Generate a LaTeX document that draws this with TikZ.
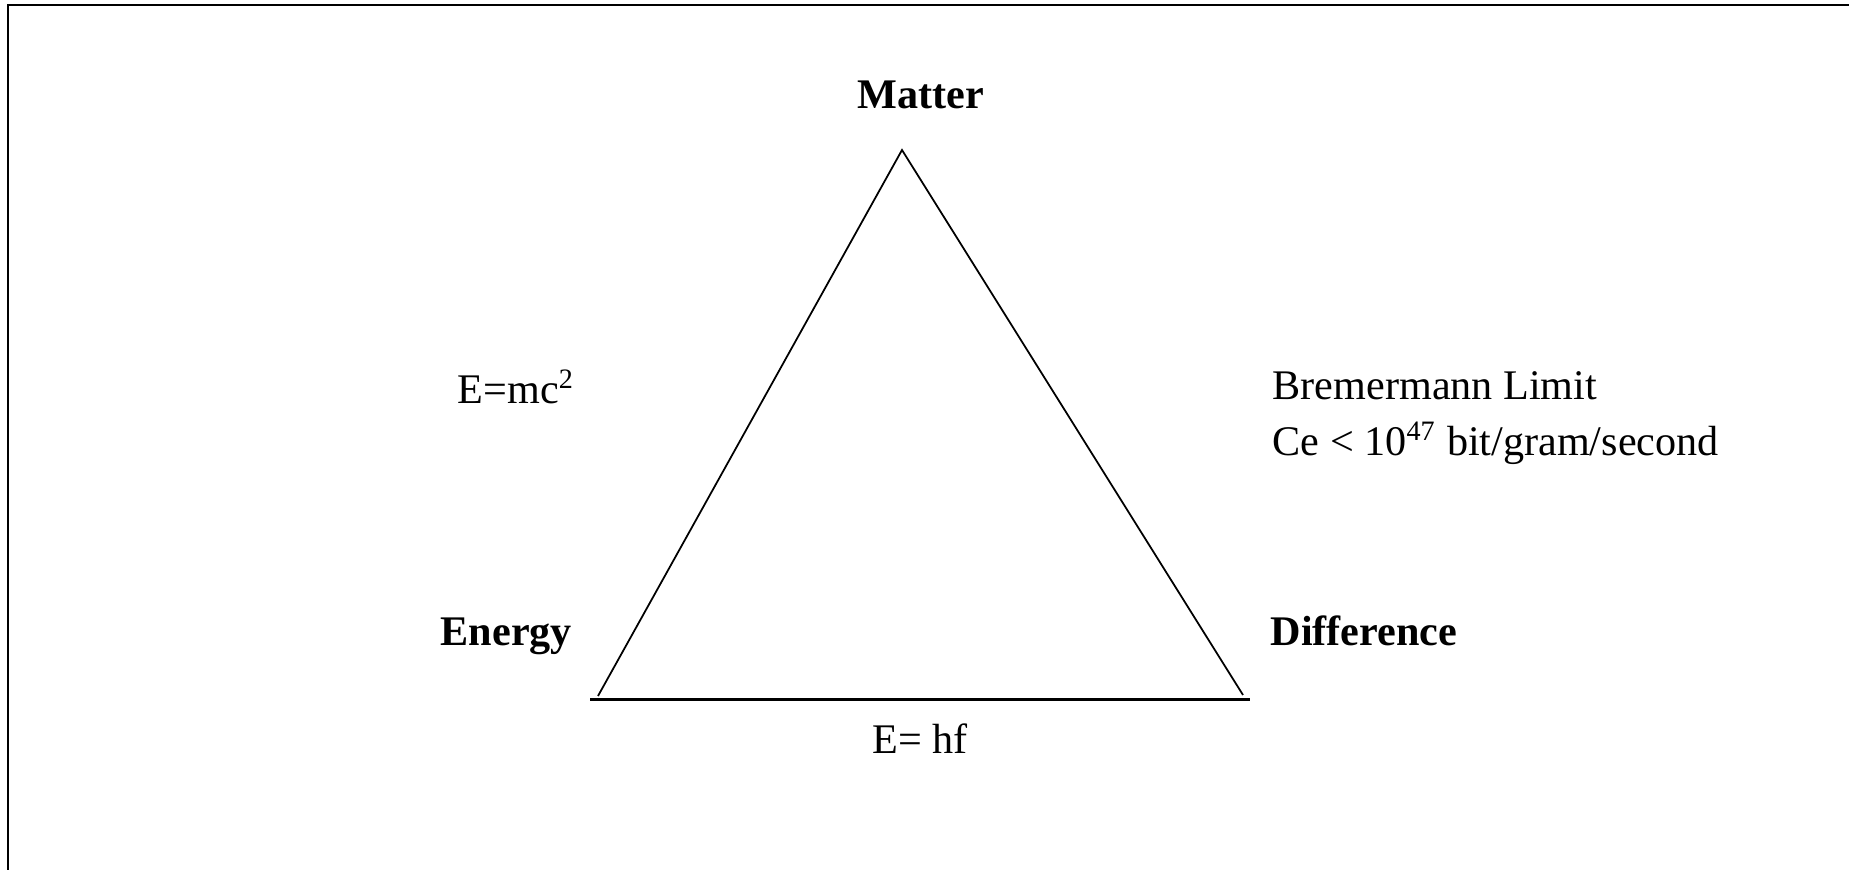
\documentclass[tikz,border=0pt]{standalone}
\usepackage{fontspec}
\setmainfont{Liberation Serif}
\usepackage{tikz}
\usetikzlibrary{positioning,calc}

\begin{document}
\begin{tikzpicture}[
    font=\fontsize{12pt}{13pt}\selectfont,
    lbl/.style={anchor=base west,inner sep=0pt},
    corner/.style={lbl,font=\fontsize{12pt}{13pt}\selectfont\bfseries},
    side/.style={line width=0.5pt},
    base/.style={line width=0.85pt}
  ]
    \useasboundingbox (0,0) rectangle (18.49,-8.70);
    \draw[line width=0.75pt] (0.08,-8.80) -- (0.08,-0.05) -- (18.60,-0.05);
    % triangle corners
    \coordinate (apex) at (9.02,-1.50);
    \coordinate (leftfoot) at (5.98,-6.96);
    \coordinate (rightfoot) at (12.43,-6.95);
    \coordinate (baseL) at (5.90,-7.00);
    \coordinate (baseR) at (12.50,-7.00);
    \draw[side] (leftfoot) -- (apex) -- (rightfoot);
    \draw[base] (baseL) -- (baseR);
    % corner names
    \node[corner] (matter) at (8.57,-1.09) {Matter};
    \node[corner] (energy) at (4.40,-6.46) {Energy};
    \node[corner] (difference) at (12.70,-6.46) {Difference};
    % relations
    \node[lbl] (einstein) at (4.57,-4.04) {E=mc\textsuperscript{2}};
    \node[lbl] (limit) at (12.72,-4.00) {Bremermann Limit};
    \node[lbl] (limitval) at (12.72,-4.56) {Ce < 10\textsuperscript{47} bit/gram/second};
    \node[lbl] (planck) at (8.72,-7.54) {E= hf};
  \end{tikzpicture}
\end{document}
